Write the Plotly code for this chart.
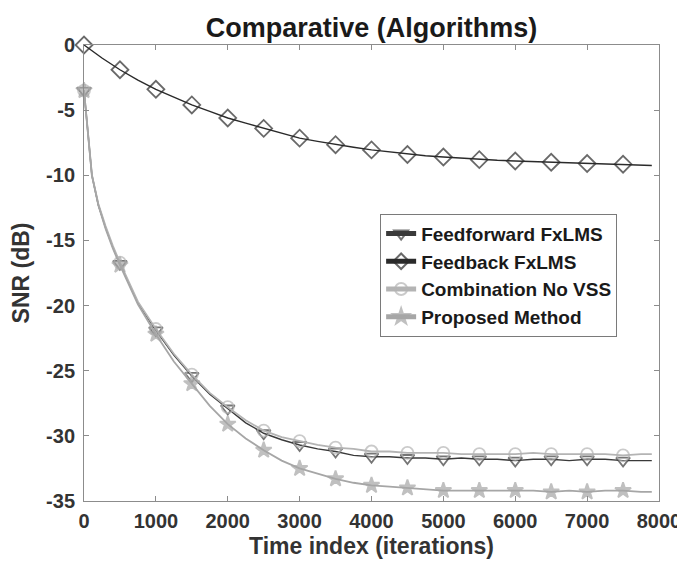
import plotly.graph_objects as go

# ---------------- data ----------------
x_fast = [0, 25, 60, 110, 200, 300, 400, 500, 750, 1000, 1250, 1500, 1750, 2000,
          2250, 2500, 2750, 3000, 3250, 3500, 3750, 4000, 4250, 4500, 4750, 5000,
          5250, 5500, 5750, 6000, 6250, 6500, 6750, 7000, 7250, 7500, 7750, 7900]

feedforward = [-3.5, -5.0, -7.5, -10.0, -12.3, -14.0, -15.5, -16.8, -19.8, -21.9,
               -23.8, -25.4, -26.8, -27.9, -29.0, -29.8, -30.3, -30.7, -31.0, -31.2,
               -31.5, -31.6, -31.6, -31.7, -31.7, -31.8, -31.7, -31.8, -31.8, -31.9,
               -31.8, -31.8, -31.9, -31.8, -31.8, -31.9, -31.9, -31.9]

combination = [-3.5, -5.0, -7.5, -10.0, -12.2, -13.9, -15.4, -16.7, -19.7, -21.8,
               -23.7, -25.3, -26.7, -27.8, -28.8, -29.6, -30.1, -30.4, -30.7, -30.9,
               -31.0, -31.2, -31.2, -31.3, -31.3, -31.3, -31.4, -31.4, -31.4, -31.4,
               -31.3, -31.4, -31.4, -31.4, -31.4, -31.5, -31.4, -31.4]

proposed = [-3.5, -5.0, -7.5, -10.0, -12.3, -14.1, -15.6, -16.9, -19.9, -22.2,
            -24.3, -26.0, -27.7, -29.1, -30.2, -31.1, -31.9, -32.5, -32.9, -33.3,
            -33.6, -33.8, -33.9, -34.0, -34.1, -34.2, -34.2, -34.2, -34.2, -34.2,
            -34.2, -34.3, -34.2, -34.3, -34.2, -34.2, -34.3, -34.3]

x_slow = [0, 250, 500, 750, 1000, 1250, 1500, 1750, 2000, 2250, 2500, 2750, 3000,
          3250, 3500, 3750, 4000, 4250, 4500, 4750, 5000, 5250, 5500, 5750, 6000,
          6250, 6500, 6750, 7000, 7250, 7500, 7750, 7900]

feedback = [0.0, -1.0, -1.9, -2.7, -3.4, -4.0, -4.6, -5.1, -5.6, -6.0, -6.4, -6.8,
            -7.15, -7.4, -7.65, -7.85, -8.05, -8.2, -8.4, -8.5, -8.6, -8.7, -8.8,
            -8.85, -8.9, -8.95, -9.0, -9.05, -9.1, -9.1, -9.15, -9.2, -9.25]

x_ticks = [0, 1000, 2000, 3000, 4000, 5000, 6000, 7000, 8000]
y_ticks = [0, -5, -10, -15, -20, -25, -30, -35]
marker_step = 500
marker_last = 7500

FONT = "Liberation Sans, Arial, sans-serif"


def sizes(xs, s):
    return [s if (x % marker_step == 0 and x <= marker_last) else 0 for x in xs]


fig = go.Figure()

series = [
    ("Feedforward FxLMS", x_fast, feedforward, "#3a3a3a", "triangle-down-open", 12, 1.4),
    ("Feedback FxLMS", x_slow, feedback, "#2a2a2a", "diamond-open", 13, 1.4),
    ("Combination No VSS", x_fast, combination, "#b4b4b4", "circle-open", 12, 1.8),
    ("Proposed Method", x_fast, proposed, "#a6a6a6", "star", 12, 1.8),
]

for name, xs, ys, col, sym, ms, lw in series:
    fig.add_trace(go.Scatter(
        x=xs, y=ys, name=name, mode="lines+markers", cliponaxis=False,
        line=dict(color=col, width=lw),
        marker=dict(symbol=sym, size=sizes(xs, ms), color=col,
                    line=dict(color=col, width=1.8)),
    ))

axis_common = dict(
    showline=True, linecolor="#8c8c8c", linewidth=1, mirror="ticks",
    ticks="inside", ticklen=5, tickcolor="#8c8c8c", showgrid=False,
    zeroline=False,
    tickfont=dict(family=FONT, size=20, color="#333333", weight=700),
)

fig.update_layout(
    width=685, height=564,
    margin=dict(l=76, r=23, t=37, b=71),
    paper_bgcolor="white", plot_bgcolor="white",
    title=dict(text="Comparative (Algorithms)", x=0.5, xanchor="center",
               xref="paper", y=0.965, yanchor="middle",
               font=dict(family=FONT, size=27, color="#1a1a1a", weight=700)),
    xaxis=dict(range=[0, 8000], tickvals=x_ticks, ticktext=[str(v) for v in x_ticks],
               ticklabelstandoff=2, automargin=True,
               title=dict(text="Time index (iterations)", standoff=6,
                          font=dict(family=FONT, size=23, color="#333333", weight=700)),
               **axis_common),
    yaxis=dict(range=[-35, 0], tickvals=y_ticks, ticktext=[str(v) for v in y_ticks],
               ticklabelstandoff=4, automargin=False,
               title=dict(text="SNR (dB)", standoff=14,
                          font=dict(family=FONT, size=23, color="#333333", weight=700)),
               **axis_common),
    legend=dict(x=0.515, y=0.63, xanchor="left", yanchor="top",
                bgcolor="white", bordercolor="#7a7a7a", borderwidth=1,
                font=dict(family=FONT, size=19, color="#1a1a1a", weight=700),
                itemsizing="constant", tracegroupgap=0),
    showlegend=True,
)

fig.write_html("out.html")
